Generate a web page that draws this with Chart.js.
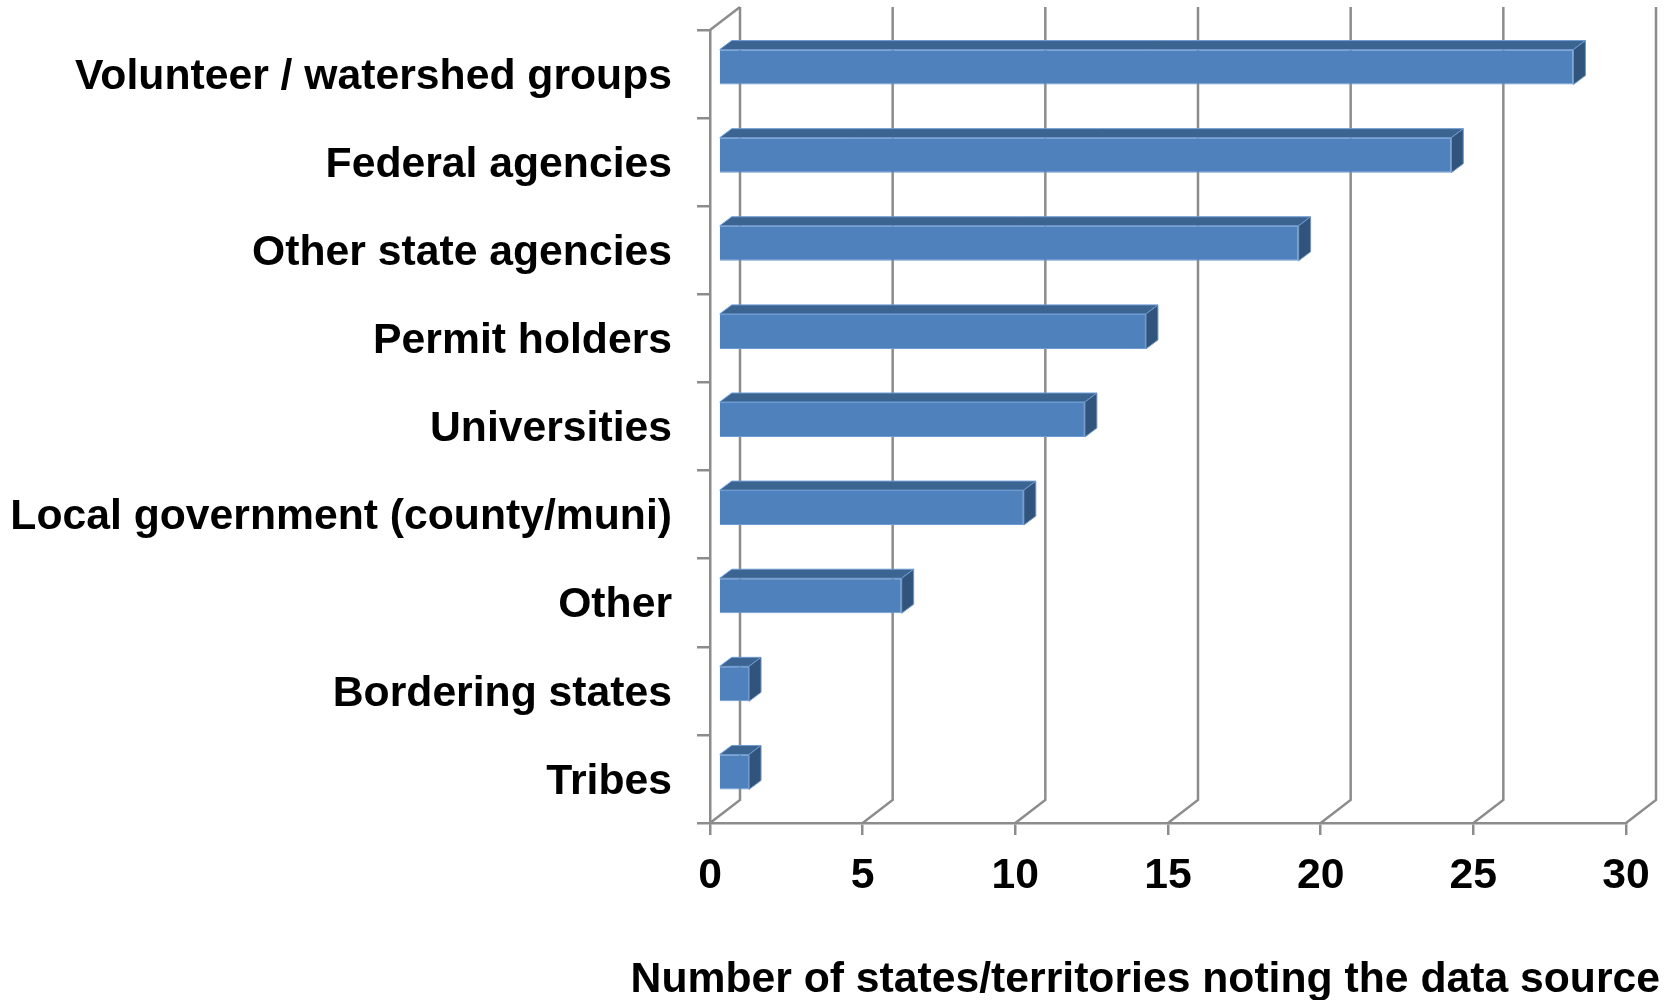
<!DOCTYPE html>
<html>
<head>
<meta charset="utf-8">
<title>Data sources</title>
<script src="https://cdn.jsdelivr.net/npm/chart.js@4"></script>
<style>
  html, body { margin: 0; padding: 0; background: #fff; }
  canvas { display: block; }
</style>
</head>
<body>
<canvas id="chart" width="1676" height="1000"></canvas>
<script>
const categories = [
  'Volunteer / watershed groups',
  'Federal agencies',
  'Other state agencies',
  'Permit holders',
  'Universities',
  'Local government (county/muni)',
  'Other',
  'Bordering states',
  'Tribes'
];
const counts = [28, 24, 19, 14, 12, 10, 6, 1, 1];
const xTicks = [0, 5, 10, 15, 20, 25, 30];
const xTitle = 'Number of states/territories noting the data source';

const FONT = { family: '"Liberation Sans", Arial, sans-serif', size: 42.7, weight: 'bold', lineHeight: 1 };
const AXIS = '#8c8c8c';
const FRONT = '#4f81bd';
const EDGE = '#6d9ad2';
const TOP = '#3c6491';
const SIDE = '#31547c';

// fake 3D, same offsets as the spreadsheet look
const WALL_DX = 30, WALL_DY = -23;
const BAR_DX = 8.5, BAR_DY = -7;
const DEPTH_DX = 12, DEPTH_DY = -9;

const fake3d = {
  id: 'fake3d',
  afterLayout(chart) {
    // the title runs past the plot on the right
    chart.titleBlock.right = 1660;
    chart.titleBlock.top += 2;
    chart.titleBlock.bottom += 2;
  },
  beforeDraw(chart) {
    // category labels sit a little under the band centre in the original
    chart.scales.y.getLabelItems().forEach(item => { item.options.translation[1] += 3; });
  },
  beforeDatasetsDraw(chart) {
    const { ctx, chartArea } = chart;
    const x = chart.scales.x;
    ctx.save();
    ctx.strokeStyle = AXIS;
    ctx.lineWidth = 2.5;
    ctx.beginPath();
    xTicks.forEach(t => {
      const px = x.getPixelForValue(t);
      ctx.moveTo(px, chartArea.bottom);
      ctx.lineTo(px + WALL_DX, chartArea.bottom + WALL_DY);
      ctx.lineTo(px + WALL_DX, chartArea.top + WALL_DY);
    });
    ctx.moveTo(chartArea.left, chartArea.top);
    ctx.lineTo(chartArea.left + WALL_DX, chartArea.top + WALL_DY);
    ctx.stroke();
    ctx.restore();

    // bars are moved off the wall, restored in afterDatasetsDraw
    ctx.save();
    ctx.translate(BAR_DX, BAR_DY);
  },
  afterDatasetsDraw(chart) {
    const { ctx } = chart;
    chart.getDatasetMeta(0).data.forEach(bar => {
      const { x, y, base, height } = bar.getProps(['x', 'y', 'base', 'height']);
      const top = y - height / 2, bottom = y + height / 2;
      ctx.lineWidth = 1;
      ctx.strokeStyle = EDGE;

      ctx.fillStyle = TOP;
      ctx.beginPath();
      ctx.moveTo(base, top);
      ctx.lineTo(base + DEPTH_DX, top + DEPTH_DY);
      ctx.lineTo(x + DEPTH_DX, top + DEPTH_DY);
      ctx.lineTo(x, top);
      ctx.closePath();
      ctx.fill();
      ctx.stroke();

      ctx.fillStyle = SIDE;
      ctx.beginPath();
      ctx.moveTo(x, top);
      ctx.lineTo(x + DEPTH_DX, top + DEPTH_DY);
      ctx.lineTo(x + DEPTH_DX, bottom + DEPTH_DY);
      ctx.lineTo(x, bottom);
      ctx.closePath();
      ctx.fill();
      ctx.stroke();
    });
    ctx.restore();
  }
};

// labels may overhang the plot, so scales must not reserve room for them
function noPadding(scale) {
  scale.paddingTop = scale.paddingBottom = scale.paddingLeft = scale.paddingRight = 0;
}

new Chart(document.getElementById('chart'), {
  type: 'bar',
  plugins: [fake3d],
  data: {
    labels: categories,
    datasets: [{
      data: counts,
      backgroundColor: FRONT,
      borderColor: EDGE,
      borderWidth: 1,
      barPercentage: 0.397,
      categoryPercentage: 1,
      clip: false
    }]
  },
  options: {
    indexAxis: 'y',
    responsive: false,
    animation: false,
    layout: { autoPadding: false, padding: { top: 30, right: 50, left: 0, bottom: 0 } },
    plugins: {
      legend: { display: false },
      tooltip: { enabled: false },
      title: {
        display: true,
        text: xTitle,
        position: 'bottom',
        align: 'end',
        color: '#000',
        font: FONT,
        padding: 0
      }
    },
    scales: {
      x: {
        min: 0,
        max: 30,
        afterFit(scale) { scale.height = 134.3; noPadding(scale); },
        afterBuildTicks(scale) { scale.ticks = xTicks.map(value => ({ value })); },
        border: { color: AXIS, width: 2.5 },
        grid: { drawOnChartArea: false, color: AXIS, lineWidth: 2.5, tickLength: 12 },
        ticks: { color: '#000', font: FONT, padding: 20, maxRotation: 0 }
      },
      y: {
        afterFit(scale) { scale.width = 710; noPadding(scale); },
        border: { color: AXIS, width: 2.5 },
        grid: { drawOnChartArea: false, color: AXIS, lineWidth: 2.5, tickLength: 13, offset: true },
        ticks: { color: '#000', font: FONT, padding: 25, autoSkip: false }
      }
    }
  }
});
</script>
</body>
</html>
